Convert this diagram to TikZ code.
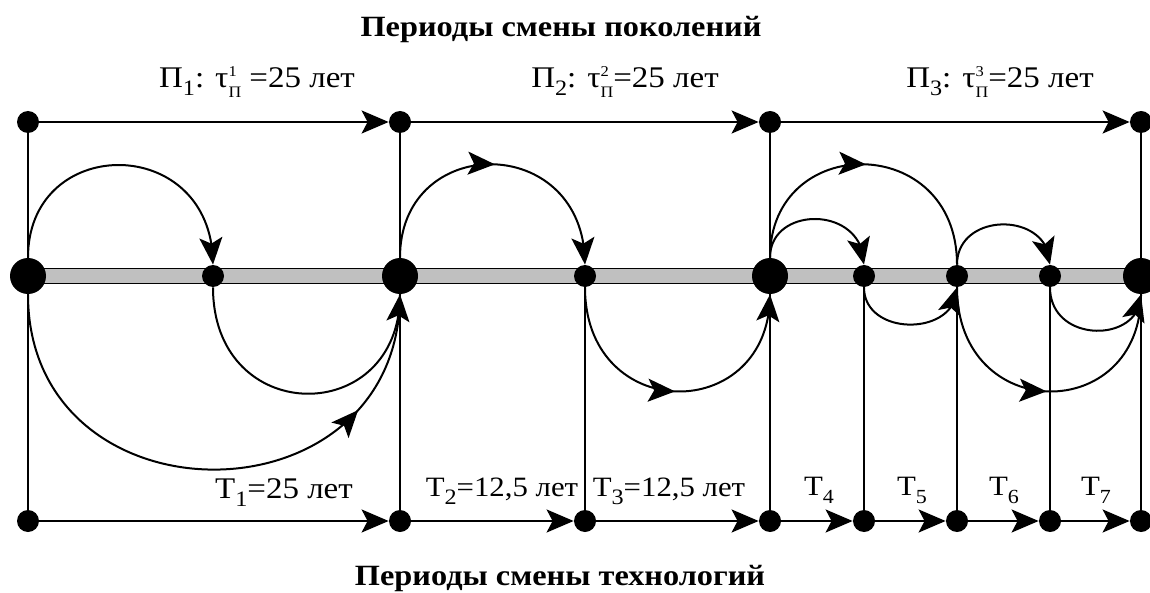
\documentclass[tikz,border=0pt]{standalone}
\usepackage{fontspec}
\setmainfont{Liberation Serif}[FakeStretch=1.1]
\usepackage{tikz}
\usetikzlibrary{arrows.meta,bending,decorations.markings,backgrounds}
\definecolor{bargray}{RGB}{192,192,192}
\newcommand{\lowidx}[2][11]{\raisebox{-4pt}{\fontsize{#1}{#1}\selectfont#2}}
\newcommand{\supsub}[2]{\rlap{\raisebox{5.8pt}{\fontsize{7.5}{8}\selectfont#1}}\raisebox{-4.6pt}{\fontsize{8}{8}\selectfont#2}}
\tikzset{
  cyclenode/.style={circle, fill=black, inner sep=0pt, minimum size=11pt},
  cyclehub/.style={cyclenode, minimum size=18pt},
  cycleline/.style={line width=1pt, draw=black},
  cyclearrow/.style={cycleline, -{Stealth[length=13.5pt,width=11.5pt,inset=3pt]}},
  cyclemid/.style={cycleline, postaction={decorate},
    decoration={markings, mark=at position #1 with {\arrow{Stealth[length=13.5pt,width=11.5pt,inset=3pt]}}}},
  cyclemid/.default=0.5,
  cyclebar/.style={draw=black, line width=0.5pt, double=bargray, double distance=7pt},
  cyclelabel/.style={anchor=base, inner sep=0pt, font=\fontsize{15}{18}\selectfont},
  cycletick/.style={cyclelabel, font=\fontsize{14}{17}\selectfont},
  cycletitle/.style={anchor=base, inner sep=0pt, font=\fontsize{14.7}{18}\selectfont\bfseries}
}

\begin{document}
\begin{tikzpicture}[x=0.5pt, y=-0.5pt]
    \useasboundingbox (0,0) rectangle (1150,593);

    \node[cycletitle] (toptitle) at (561,37) {Периоды смены поколений};
    \node[cycletitle] (bottitle) at (560,585) {Периоды смены технологий};

    \node[cyclenode] (t0) at (28,122) {};
    \node[cyclenode] (t1) at (400,122) {};
    \node[cyclenode] (t2) at (770,122) {};
    \node[cyclenode] (t3) at (1141,122) {};

    \node[cyclehub] (g0) at (28,276) {};
    \node[cyclenode] (s1) at (213,276) {};
    \node[cyclehub] (g1) at (400,276) {};
    \node[cyclenode] (s2) at (585,276) {};
    \node[cyclehub] (g2) at (770,276) {};
    \node[cyclenode] (s3) at (864,276) {};
    \node[cyclenode] (s4) at (957,276) {};
    \node[cyclenode] (s5) at (1050,276) {};
    \node[cyclehub] (g3) at (1141,276) {};

    \node[cyclenode] (b0) at (28,521) {};
    \node[cyclenode] (b1) at (400,521) {};
    \node[cyclenode] (b2) at (585,521) {};
    \node[cyclenode] (b3) at (770,521) {};
    \node[cyclenode] (b4) at (864,521) {};
    \node[cyclenode] (b5) at (957,521) {};
    \node[cyclenode] (b6) at (1050,521) {};
    \node[cyclenode] (b7) at (1141,521) {};

    \node[cyclelabel] (p1) at (257,88) {П\lowidx{1}: τ\supsub{1}{П} =25 лет};
    \node[cyclelabel] (p2) at (625,88) {П\lowidx{2}: τ\supsub{2}{П}=25 лет};
    \node[cyclelabel] (p3) at (1000,88) {П\lowidx{3}: τ\supsub{3}{П}=25 лет};

    \node[cyclelabel] (l1) at (284,498) {Т\lowidx{1}=25 лет};
    \node[cycletick] (l2) at (502,496) {Т\lowidx{2}=12,5 лет};
    \node[cycletick] (l3) at (669,496) {Т\lowidx{3}=12,5 лет};
    \node[cycletick] (l4) at (819,495) {Т\lowidx[10]{4}};
    \node[cycletick] (l5) at (912,495) {Т\lowidx[10]{5}};
    \node[cycletick] (l6) at (1004,495) {Т\lowidx[10]{6}};
    \node[cycletick] (l7) at (1096,495) {Т\lowidx[10]{7}};

    \begin{scope}[on background layer]
      \draw[cyclebar] (g0.center) -- (g3.center);
    \end{scope}

    \draw[cycleline] (t0) -- (b0);
    \draw[cycleline] (t1) -- (b1);
    \draw[cycleline] (t2) -- (b3);
    \draw[cycleline] (t3) -- (b7);
    \draw[cycleline] (s2) -- (b2);
    \draw[cycleline] (s3) -- (b4);
    \draw[cycleline] (s4) -- (b5);
    \draw[cycleline] (s5) -- (b6);

    \draw[cyclearrow] (t0) -- (t1);
    \draw[cyclearrow] (t1) -- (t2);
    \draw[cyclearrow] (t2) -- (t3);

    \draw[cyclearrow] (b0) -- (b1);
    \draw[cyclearrow] (b1) -- (b2);
    \draw[cyclearrow] (b2) -- (b3);
    \draw[cyclearrow] (b3) -- (b4);
    \draw[cyclearrow] (b4) -- (b5);
    \draw[cyclearrow] (b5) -- (b6);
    \draw[cyclearrow] (b6) -- (b7);

    \draw[cyclearrow] (g0) .. controls +(0,-143) and +(0,-143) .. (s1);
    \draw[cyclearrow] (s1) .. controls +(0,152) and +(0,152) .. (g1);
    \draw[cyclemid=0.78] (g0) .. controls +(0,252) and +(0,252) .. (g1);

    \draw[cyclearrow, cyclemid] (g1) .. controls +(0,-144) and +(0,-144) .. (s2);
    \draw[cyclearrow, cyclemid] (s2) .. controls +(0,149) and +(0,149) .. (g2);

    \draw[cyclemid] (g2) .. controls +(0,-144) and +(0,-144) .. (s4);
    \draw[cyclearrow] (g2) .. controls +(0,-71) and +(0,-71) .. (s3);
    \draw[cyclearrow] (s3) .. controls +(0,61) and +(0,61) .. (s4);
    \draw[cyclearrow] (s4) .. controls +(0,-65) and +(0,-65) .. (s5);
    \draw[cyclearrow] (s5) .. controls +(0,68) and +(0,68) .. (g3);
    \draw[cyclemid] (s4) .. controls +(0,149) and +(0,149) .. (g3);
  \end{tikzpicture}
\end{document}
